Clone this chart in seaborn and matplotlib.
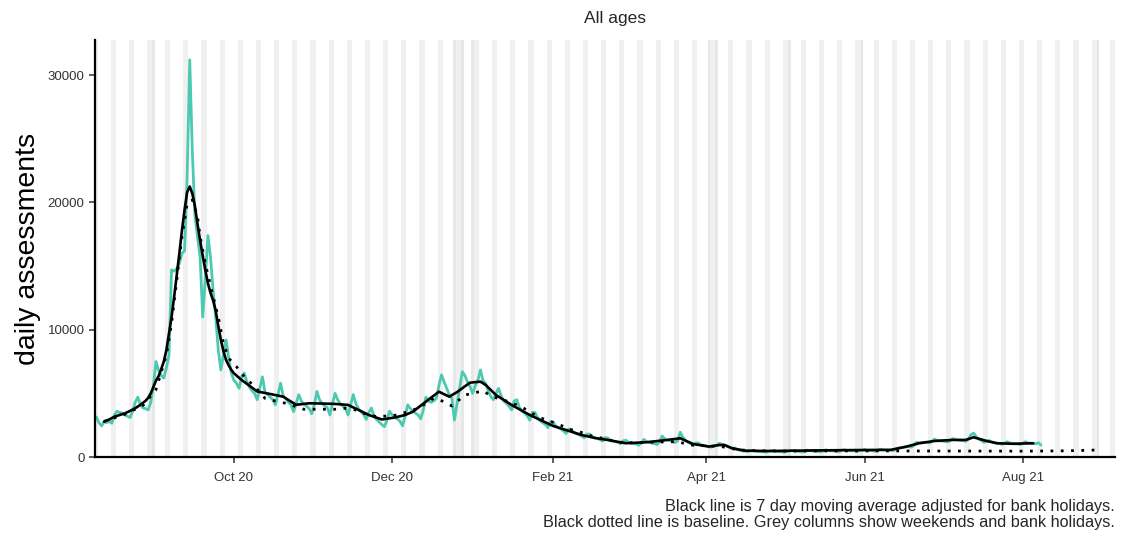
import matplotlib
matplotlib.use("Agg")
import matplotlib.pyplot as plt
import matplotlib.dates as mdates
import numpy as np
import pandas as pd
import seaborn as sns

# ---------------- data ----------------
teal_start = "2020-08-09"
teal_values = [
    3150,
    2700, 2450, 2750, 2700, 2800, 2650, 3300,      # Aug 10
    3600, 3500, 3450, 3300, 3200, 3100, 3600,      # Aug 17
    4300, 4700, 4100, 3850, 3800, 3700, 4300,      # Aug 24
    5600, 7500, 6800, 6400, 6200, 7000, 8000,      # Aug 31
    14700, 14600, 14800, 15200, 16000, 16200, 22000,  # Sep 7
    31200, 24000, 19000, 17300, 15700, 11000, 14000,  # Sep 14
    17400, 15700, 13100, 11000, 8400, 6840, 8000,  # Sep 21
    9200, 7800, 6600, 6050, 5800, 5400, 6300,      # Sep 28
    6600, 5900, 5500, 5200, 5000, 4500, 5400,      # Oct 5
    6300, 5100, 4900, 4700, 4500, 4100, 4900,      # Oct 12
    5800, 4800, 4600, 4300, 4100, 3560, 4200,      # Oct 19
    4900, 4400, 4150, 4000, 3800, 3400, 4100,      # Oct 26
    5150, 4500, 4200, 4000, 3900, 3300, 4200,      # Nov 2
    5000, 4500, 4200, 4000, 3850, 3300, 4100,      # Nov 9
    4900, 4200, 3800, 3550, 3350, 2950, 3500,      # Nov 16
    3850, 3200, 2950, 2750, 2550, 2380, 2900,      # Nov 23
    3600, 3300, 3100, 3000, 2800, 2450, 3200,      # Nov 30
    4100, 3800, 3600, 3450, 3300, 3000, 3700,      # Dec 7
    4700, 4400, 4300, 4400, 4600, 5600, 6450,      # Dec 14
    5900, 5400, 4900, 4600, 2900, 4200, 5400,      # Dec 21
    6700, 6400, 5900, 5530, 5000, 5600, 6000,      # Dec 28
    6840, 6000, 5790, 5200, 4740, 4500, 5000,      # Jan 4
    5400, 4800, 4400, 4220, 4000, 3700, 4400,      # Jan 11
    4500, 3900, 3600, 3450, 3250, 2900, 3500,      # Jan 18
    3500, 3100, 2850, 2700, 2550, 2300, 2800,      # Jan 25
    2750, 2450, 2300, 2200, 2050, 1850, 2200,      # Feb 1
    2150, 1950, 1820, 1750, 1650, 1500, 1800,      # Feb 8
    1800, 1600, 1500, 1450, 1380, 1250, 1520,      # Feb 15
    1500, 1330, 1250, 1200, 1150, 1050, 1270,      # Feb 22
    1320, 1160, 1100, 1050, 1020, 930, 1120,       # Mar 1
    1380, 1210, 1150, 1100, 1060, 980, 1170,       # Mar 8
    1650, 1420, 1330, 1280, 1230, 1130, 1270,      # Mar 15
    1950, 1550, 1300, 1150, 1050, 950, 1100,       # Mar 22
    1100, 950, 900, 880, 800, 780, 850,            # Mar 29
    900, 1080, 1000, 950, 880, 760, 700,           # Apr 5
    700, 580, 520, 480, 460, 420, 480,             # Apr 12
    520, 460, 440, 420, 410, 380, 440,             # Apr 19
    500, 450, 430, 420, 410, 370, 430,             # Apr 26
    470, 520, 460, 440, 430, 390, 450,             # May 3
    540, 490, 470, 455, 445, 410, 470,             # May 10
    560, 510, 490, 475, 465, 430, 490,             # May 17
    570, 520, 500, 485, 475, 440, 500,             # May 24
    520, 580, 520, 500, 490, 450, 520,             # May 31
    620, 570, 550, 540, 530, 500, 600,             # Jun 7
    700, 720, 760, 800, 820, 780, 900,             # Jun 14
    1150, 1100, 1120, 1150, 1150, 1100, 1250,      # Jun 21
    1400, 1300, 1280, 1250, 1230, 1180, 1300,      # Jun 28
    1450, 1380, 1340, 1310, 1290, 1240, 1400,      # Jul 5
    1750, 1880, 1600, 1400, 1300, 1150, 1250,      # Jul 12
    1300, 1180, 1120, 1080, 1050, 1000, 1100,      # Jul 19
    1200, 1100, 1070, 1040, 1020, 980, 1090,       # Jul 26
    1200, 1100, 1080, 1050, 1040, 1120, 940,       # Aug 2
]

avg_dates = [
    "2020-08-12", "2020-08-14", "2020-08-16", "2020-08-18", "2020-08-20",
    "2020-08-22", "2020-08-24", "2020-08-26", "2020-08-28", "2020-08-29",
    "2020-08-30", "2020-08-31", "2020-09-01", "2020-09-02", "2020-09-03",
    "2020-09-04", "2020-09-05", "2020-09-06", "2020-09-07", "2020-09-08",
    "2020-09-09", "2020-09-10", "2020-09-11", "2020-09-12", "2020-09-13",
    "2020-09-14", "2020-09-15", "2020-09-16", "2020-09-17", "2020-09-18",
    "2020-09-19", "2020-09-20", "2020-09-21", "2020-09-22", "2020-09-23",
    "2020-09-24", "2020-09-25", "2020-09-26", "2020-09-27", "2020-09-28",
    "2020-09-29", "2020-09-30", "2020-10-01", "2020-10-04", "2020-10-07",
    "2020-10-10", "2020-10-15", "2020-10-20", "2020-10-25", "2020-10-30",
    "2020-11-04", "2020-11-09", "2020-11-14", "2020-11-18", "2020-11-22",
    "2020-11-27", "2020-12-02", "2020-12-06", "2020-12-09", "2020-12-14",
    "2020-12-19", "2020-12-23", "2020-12-26", "2020-12-29", "2020-12-31",
    "2021-01-04", "2021-01-06", "2021-01-10", "2021-01-16", "2021-01-23",
    "2021-02-01", "2021-02-06", "2021-02-12", "2021-02-17", "2021-02-22",
    "2021-03-01", "2021-03-09", "2021-03-17", "2021-03-22", "2021-03-27",
    "2021-04-02", "2021-04-06", "2021-04-08", "2021-04-11", "2021-04-16",
    "2021-04-25", "2021-05-14", "2021-06-01", "2021-06-11", "2021-06-17",
    "2021-06-22", "2021-06-28", "2021-07-05", "2021-07-10", "2021-07-13",
    "2021-07-18", "2021-07-22", "2021-07-28", "2021-08-05",
]
avg_values = [
    2780, 2950, 3170, 3300, 3430,
    3620, 3830, 4100, 4420, 4650,
    5000, 5500, 6000, 6350, 6900,
    7500, 8400, 9700, 11000, 12600,
    14300, 16000, 17800, 19400, 20800,
    21250, 20700, 19700, 18300, 17000,
    15800, 14700, 13650, 12900, 12300,
    11500, 10300, 9200, 8300, 7620,
    7200, 6850, 6580, 6050, 5600,
    5150, 4950, 4740, 4100, 4220,
    4200, 4170, 4090, 3700, 3300,
    2950, 3100, 3300, 3560, 4350,
    5130, 4740, 5100, 5550, 5840,
    5920, 5660, 4870, 4090, 3300,
    2440, 2120, 1730, 1500, 1340,
    1080, 1160, 1340, 1470, 1020,
    820, 940, 940, 680, 500,
    470, 520, 550, 560, 810,
    1080, 1260, 1340, 1340, 1550,
    1260, 1080, 1040, 1080,
]

base_dates = [
    "2020-08-12", "2020-08-20", "2020-08-27", "2020-09-01", "2020-09-05",
    "2020-09-07", "2020-09-09", "2020-09-11", "2020-09-13", "2020-09-15",
    "2020-09-17", "2020-09-18", "2020-09-20", "2020-09-23", "2020-09-25",
    "2020-09-27", "2020-09-29", "2020-10-02", "2020-10-05", "2020-10-09",
    "2020-10-13", "2020-10-17", "2020-10-21", "2020-10-28", "2020-11-09",
    "2020-11-13", "2020-11-17", "2020-11-20", "2020-11-25", "2020-11-29",
    "2020-12-03", "2020-12-07", "2020-12-11", "2020-12-17", "2020-12-21",
    "2020-12-24", "2020-12-29", "2021-01-02", "2021-01-05", "2021-01-08",
    "2021-01-16", "2021-01-20", "2021-01-23", "2021-01-26", "2021-01-30",
    "2021-02-03", "2021-02-07", "2021-02-11", "2021-02-16", "2021-02-20",
    "2021-02-24", "2021-02-28", "2021-03-06", "2021-03-14", "2021-03-21",
    "2021-03-26", "2021-04-03", "2021-04-07", "2021-04-12", "2021-04-17",
    "2021-05-01", "2021-06-01", "2021-07-01", "2021-08-01", "2021-08-15",
    "2021-08-25", "2021-08-31",
]
base_values = [
    2800, 3350, 4050, 5300, 8000,
    10500, 13900, 17300, 19900, 20200,
    18900, 17300, 15200, 12600, 11000,
    8900, 7760, 7100, 6310, 5530,
    4610, 4400, 4220, 3750, 3750,
    3830, 3690, 3430, 3170, 3220,
    3300, 3560, 3830, 4610, 4350,
    4010, 4870, 5050, 5210, 4790,
    4270, 3910, 3560, 3170, 2850,
    2590, 2200, 1990, 1650, 1470,
    1260, 1120, 1120, 1180, 1200,
    940, 860, 810, 620, 500,
    470, 480, 470, 460, 480,
    520, 560,
]

bank_holidays = ["2020-08-31", "2020-12-25", "2020-12-28", "2021-01-01",
                 "2021-04-02", "2021-04-05", "2021-05-03", "2021-05-31",
                 "2021-08-30"]
shade_start, shade_end = "2020-08-09", "2021-09-05"

y_ticks = [0, 10000, 20000, 30000]
x_tick_dates = ["2020-10-01", "2020-12-01", "2021-02-01",
                "2021-04-01", "2021-06-01", "2021-08-01"]

title = "All ages"
ylabel = "daily assessments"
caption1 = "Black line is 7 day moving average adjusted for bank holidays."
caption2 = "Black dotted line is baseline. Grey columns show weekends and bank holidays."

# ---------------- frames ----------------
teal_df = pd.DataFrame({
    "date": pd.date_range(teal_start, periods=len(teal_values), freq="D"),
    "value": teal_values,
})
avg_df = pd.DataFrame({"date": pd.to_datetime(avg_dates), "value": avg_values})
base_df = pd.DataFrame({"date": pd.to_datetime(base_dates), "value": base_values})

# ---------------- plot ----------------
sns.set_style("ticks")
plt.rcParams["font.family"] = ["Liberation Sans", "DejaVu Sans"]

W, H = 1123, 533
fig = plt.figure(figsize=(W / 100, H / 100), dpi=100)
L, R, T, B = 95, 1115, 40, 457
ax = fig.add_axes([L / W, 1 - B / H, (R - L) / W, (B - T) / H])

bh = set(pd.to_datetime(bank_holidays))
for d in pd.date_range(shade_start, shade_end, freq="D"):
    if d.weekday() >= 5 or d in bh:
        c = "#e7e7e7" if d in bh else "#f0f0f0"
        x0 = mdates.date2num(d) - 0.5
        ax.axvspan(x0, x0 + 1, color=c, lw=0, zorder=0)

sns.lineplot(data=teal_df, x="date", y="value", ax=ax, color="#4cc9b0",
             linewidth=2.0, estimator=None, zorder=2,
             solid_joinstyle="round", solid_capstyle="round")
sns.lineplot(data=base_df, x="date", y="value", ax=ax, color="black",
             linewidth=2.0, estimator=None, linestyle=(0, (1, 2.7)), zorder=3)
sns.lineplot(data=avg_df, x="date", y="value", ax=ax, color="black",
             linewidth=1.9, estimator=None, zorder=4,
             solid_joinstyle="round", solid_capstyle="round")

ax.set_xlim(mdates.date2num(pd.Timestamp("2020-08-09")) - 0.5,
            mdates.date2num(pd.Timestamp("2021-09-05")) + 0.5)
ax.set_ylim(0, 32760)

ax.set_xticks(pd.to_datetime(x_tick_dates))
ax.xaxis.set_major_formatter(mdates.DateFormatter("%b %y"))
ax.set_yticks(y_ticks)
ax.set_yticklabels([str(v) for v in y_ticks])

for s in ["top", "right"]:
    ax.spines[s].set_visible(False)
for s in ["left", "bottom"]:
    ax.spines[s].set_linewidth(1.6)
    ax.spines[s].set_color("black")

ax.tick_params(axis="both", length=4.5, width=1.1, color="#333333",
               labelsize=9.5, labelcolor="#333333")
ax.tick_params(axis="x", pad=6)
ax.tick_params(axis="y", pad=3)

ax.set_xlabel("")
ax.set_ylabel(ylabel, fontsize=20.5, color="black")
ax.yaxis.set_label_coords((41 - L) / (R - L), 0.5)
ax.set_title(title, fontsize=12.5, pad=12)
ax.title.set_position(((615 - L) / (R - L), 1.0))

fig.text(R / W, 1 - 507 / H, caption1, ha="right", va="center", fontsize=11.7)
fig.text(R / W, 1 - 522 / H, caption2, ha="right", va="center", fontsize=11.7)

fig.savefig("out.png", dpi=100)
